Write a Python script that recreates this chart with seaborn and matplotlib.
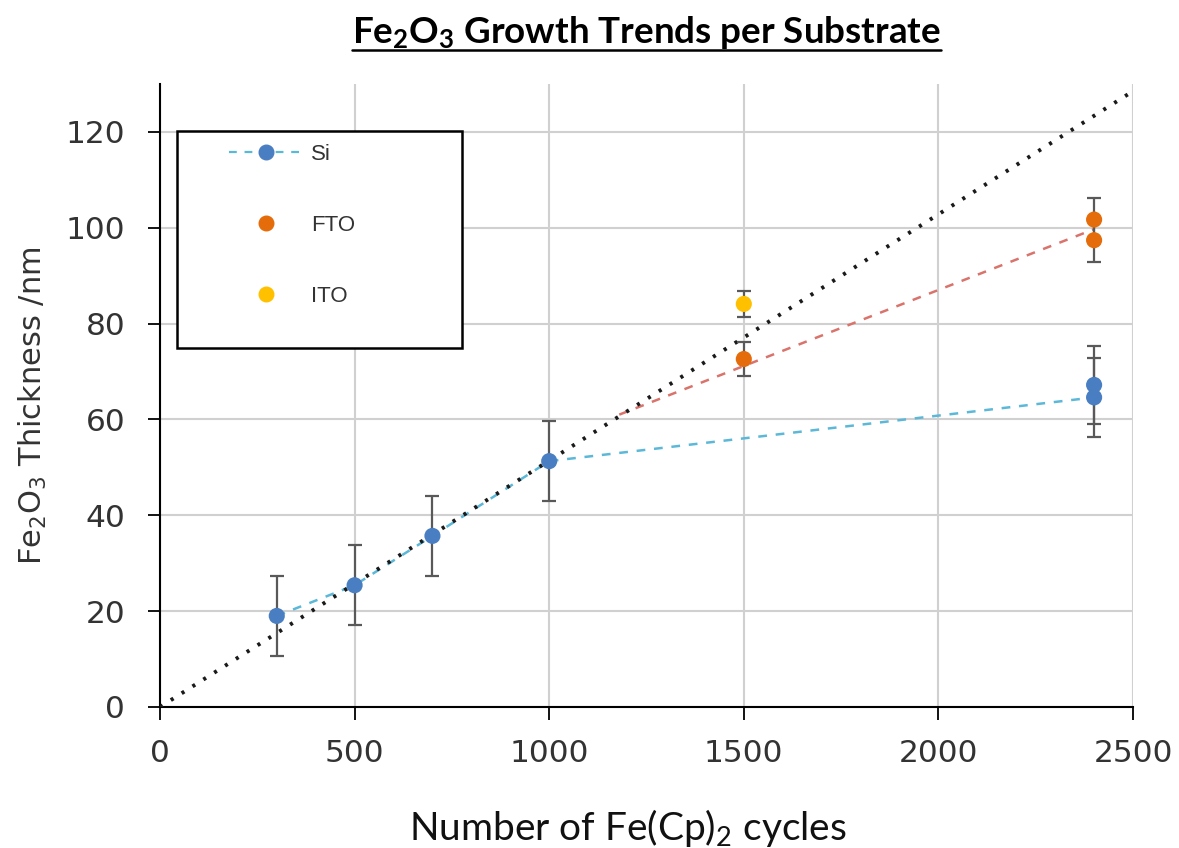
import numpy as np
import pandas as pd
import matplotlib
matplotlib.use("Agg")
import matplotlib.pyplot as plt
import seaborn as sns
from matplotlib.lines import Line2D
from matplotlib.patches import Rectangle

# ---- data ----
si_cycles = [300, 500, 700, 1000, 2400, 2400]
si_thick = [19.0, 25.4, 35.7, 51.3, 67.2, 64.6]
si_err = [8.3, 8.3, 8.3, 8.3, 8.2, 8.3]

fto_cycles = [1500, 2400, 2400]
fto_thick = [72.6, 101.7, 97.4]
fto_err = [3.6, 4.4, 4.6]

ito_cycles = [1500]
ito_thick = [84.1]
ito_err = [2.8]

si_line_x = [300, 500, 700, 1000, 2400]
si_line_y = [19.0, 25.4, 35.7, 51.3, 64.6]

fto_line_x = [1180, 2400]
fto_line_y = [61.0, 99.7]

ideal_x = [0, 2500]
ideal_y = [0.0, 128.5]

x_ticks = [0, 500, 1000, 1500, 2000, 2500]
y_ticks = [0, 20, 40, 60, 80, 100, 120]

title = r"Fe$_2$O$_3$ Growth Trends per Substrate"
xlabel = r"Number of Fe(Cp)$_2$ cycles"
ylabel = r"Fe$_2$O$_3$ Thickness /nm"
legend_labels = ["Si", "FTO", "ITO"]

# ---- colours ----
c_si = "#4A7EC2"
c_si_line = "#5BB8D8"
c_fto = "#E46C0A"
c_fto_line = "#D9736C"
c_ito = "#FFC000"
c_err = "#595959"

sns.set_style("whitegrid")
plt.rcParams["font.family"] = ["DejaVu Sans"]
plt.rcParams["mathtext.default"] = "regular"

fig = plt.figure(figsize=(11.79, 8.48), dpi=100)
ax = fig.add_axes([0.1357, 0.1663, 0.961 - 0.1357, 0.901 - 0.1663])

# trend lines
sns.lineplot(x=ideal_x, y=ideal_y, ax=ax, color="#1a1a1a", lw=2.8,
             linestyle=(0, (0.8, 2.5)), zorder=4)
sns.lineplot(x=si_line_x, y=si_line_y, ax=ax, color=c_si_line, lw=1.8,
             linestyle=(0, (3.5, 3.5)), zorder=3)
sns.lineplot(x=fto_line_x, y=fto_line_y, ax=ax, color=c_fto_line, lw=1.8,
             linestyle=(0, (3.5, 3.5)), zorder=3)

# error bars
for xs, ys, es in [(si_cycles, si_thick, si_err), (fto_cycles, fto_thick, fto_err),
                   (ito_cycles, ito_thick, ito_err)]:
    ax.errorbar(xs, ys, yerr=es, fmt="none", ecolor=c_err, elinewidth=1.6,
                capsize=5, capthick=1.6, zorder=5)

# markers
sns.scatterplot(x=si_cycles, y=si_thick, ax=ax, color=c_si, s=135, edgecolor="none", zorder=6)
sns.scatterplot(x=fto_cycles, y=fto_thick, ax=ax, color=c_fto, s=135, edgecolor="none", zorder=6)
sns.scatterplot(x=ito_cycles, y=ito_thick, ax=ax, color=c_ito, s=135, edgecolor="none", zorder=6)

ax.set_xlim(0, 2500)
ax.set_ylim(0, 130)
ax.set_xticks(x_ticks)
ax.set_yticks(y_ticks)
ax.grid(True, color="#D0D0D0", lw=1.5)
ax.set_axisbelow(True)
for s in ["top", "right"]:
    ax.spines[s].set_visible(False)
for s in ["left", "bottom"]:
    ax.spines[s].set_visible(True)
    ax.spines[s].set_color("black")
    ax.spines[s].set_linewidth(1.5)
ax.tick_params(axis="both", which="major", length=9, width=1.3, color="black",
               labelsize=22.5, labelcolor="#333333", direction="out",
               left=True, bottom=True)
ax.tick_params(axis="y", pad=16)
ax.tick_params(axis="x", pad=14)

ax.set_xlabel(xlabel, fontsize=28, family="Lato", color="#111111", va="center")
ax.xaxis.set_label_coords(0.4805, -0.194)
ax.set_ylabel(ylabel, fontsize=22, color="#333333", va="center")
ax.yaxis.set_label_coords(-0.131, 0.483)

# legend
handles = [
    Line2D([0], [0], color=c_si_line, lw=1.6, linestyle=(0, (3.5, 3.5)),
           marker="o", markersize=10.5, markerfacecolor=c_si, markeredgecolor=c_si),
    Line2D([0], [0], color="none", marker="o", markersize=10.5,
           markerfacecolor=c_fto, markeredgecolor=c_fto),
    Line2D([0], [0], color="none", marker="o", markersize=10.5,
           markerfacecolor=c_ito, markeredgecolor=c_ito),
]
leg = ax.legend(handles, legend_labels, loc="upper left",
                bbox_to_anchor=(0.0637, 0.914), frameon=False,
                prop={"family": "Liberation Sans", "size": 16},
                handlelength=3.35, handletextpad=0.36, labelspacing=2.25,
                borderpad=0.3, borderaxespad=0)
for t in leg.get_texts():
    t.set_color("#333333")
leg.set_zorder(10)

box = Rectangle((17 / 973, (707 - 348) / 623), (462 - 177) / 973, (348 - 131) / 623,
                transform=ax.transAxes, fill=True, facecolor="white",
                edgecolor="black", lw=1.8, zorder=9)
ax.add_patch(box)

# title with underline
t = fig.text(0.548, 0.962, title, ha="center", va="center", fontsize=26.5,
             fontweight="bold", family="Lato", color="black")
fig.canvas.draw()
bb = t.get_window_extent()
inv = fig.transFigure.inverted()
(x0, y0), (x1, y1) = inv.transform([(bb.x0, bb.y0), (bb.x1, bb.y1)])
fig.add_artist(Line2D([x0, x1], [y0 + 0.001, y0 + 0.001], color="black", lw=1.8,
                      transform=fig.transFigure))

fig.savefig("out.png", dpi=100)
